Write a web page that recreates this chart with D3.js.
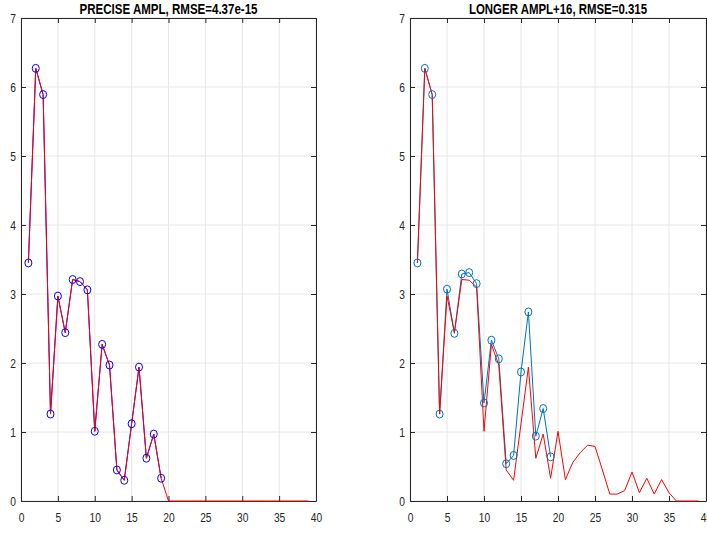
<!DOCTYPE html>
<html>
<head>
<meta charset="utf-8">
<script src="https://cdn.jsdelivr.net/npm/d3@7"></script>
<style>
  body { margin: 0; background: #fff; }
  svg { display: block; }
  .tick text { font-family: "Liberation Sans Narrow", "Arial Narrow", "Liberation Sans", sans-serif; font-size: 12.5px; fill: #262626; }
</style>
</head>
<body>
<svg width="707" height="533"></svg>
<script>

// x = 1..39, original samples (circles) on 1..19
var idxShort = d3.range(1, 20);
var idxLong = d3.range(1, 40);

// left: precise amplitudes
var preciseAmpl = [3.45, 6.27, 5.89, 1.26, 2.97, 2.44, 3.21, 3.18, 3.06, 1.01,
                   2.27, 1.97, 0.45, 0.30, 1.12, 1.94, 0.62, 0.97, 0.33];
var preciseRecon = [3.45, 6.27, 5.89, 1.26, 2.97, 2.44, 3.21, 3.18, 3.06, 1.01,
                    2.27, 1.97, 0.45, 0.30, 1.12, 1.94, 0.62, 0.97, 0.33, 0,
                    0, 0, 0, 0, 0, 0, 0, 0, 0, 0,
                    0, 0, 0, 0, 0, 0, 0, 0, 0];

// right: longer amplitudes (+16)
var longerAmpl = [3.45, 6.27, 5.89, 1.26, 3.07, 2.43, 3.29, 3.31, 3.15, 1.42,
                  2.33, 2.06, 0.54, 0.66, 1.87, 2.74, 0.94, 1.34, 0.64];
var longerRecon = [3.45, 6.27, 5.89, 1.26, 2.97, 2.44, 3.21, 3.20, 3.10, 1.01,
                   2.27, 1.97, 0.45, 0.30, 1.12, 1.94, 0.62, 0.97, 0.33, 1.01,
                   0.31, 0.56, 0.70, 0.81, 0.79, 0.45, 0.10, 0.10, 0.15, 0.42,
                   0.12, 0.33, 0.10, 0.31, 0.12, 0, 0, 0, 0];

var xTicks = [0, 5, 10, 15, 20, 25, 30, 35, 40];
var yTicks = [0, 1, 2, 3, 4, 5, 6, 7];

var svg = d3.select("svg");
var fontTitle = '"Liberation Sans Narrow", "Arial Narrow", "Liberation Sans", sans-serif';

function panel(left, right, title, ampl, recon, markColor) {
  var top = 18, bottom = 501;
  var x = d3.scaleLinear().domain([0, 40]).range([left, right]);
  var y = d3.scaleLinear().domain([0, 7]).range([bottom, top]);
  var g = svg.append("g");

  // grid
  g.selectAll(".gx").data(xTicks).enter().append("line")
    .attr("x1", function(d) { return x(d); }).attr("x2", function(d) { return x(d); })
    .attr("y1", top).attr("y2", bottom)
    .attr("stroke", "#e6e6e6").attr("stroke-width", 1);
  g.selectAll(".gy").data(yTicks).enter().append("line")
    .attr("y1", function(d) { return y(d); }).attr("y2", function(d) { return y(d); })
    .attr("x1", left).attr("x2", right)
    .attr("stroke", "#e6e6e6").attr("stroke-width", 1);

  // axes
  var ax = g.append("g").attr("transform", "translate(0," + bottom + ")")
    .call(d3.axisBottom(x).tickValues(xTicks).tickFormat(d3.format("d"))
      .tickSizeInner(-5).tickSizeOuter(0).tickPadding(12));
  var ay = g.append("g").attr("transform", "translate(" + left + ",0)")
    .call(d3.axisLeft(y).tickValues(yTicks).tickFormat(d3.format("d"))
      .tickSizeInner(-5).tickSizeOuter(0).tickPadding(5));
  g.append("g").attr("transform", "translate(0," + top + ")")
    .call(d3.axisTop(x).tickValues(xTicks).tickSizeInner(-5).tickSizeOuter(0).tickFormat(""));
  g.append("g").attr("transform", "translate(" + right + ",0)")
    .call(d3.axisRight(y).tickValues(yTicks).tickSizeInner(-5).tickSizeOuter(0).tickFormat(""));
  g.selectAll(".domain").attr("stroke", "#262626");
  g.selectAll(".tick line").attr("stroke", "#262626");

  // narrow the tick labels like the condensed original font
  ax.selectAll(".tick text").each(function() {
    d3.select(this).attr("transform", "scale(0.82,1)");
  });
  ay.selectAll(".tick text").attr("transform", "scale(0.82,1)")
    .attr("x", -5 / 0.82);

  // data
  var line = d3.line()
    .x(function(d, i) { return x(i + 1); })
    .y(function(d) { return y(d); });

  g.append("path").datum(ampl)
    .attr("d", line).attr("fill", "none")
    .attr("stroke", markColor).attr("stroke-width", 1);

  g.append("path").datum(recon)
    .attr("d", line).attr("fill", "none")
    .attr("stroke", "#ff0000").attr("stroke-width", 1);

  g.selectAll(".mk").data(ampl).enter().append("ellipse")
    .attr("cx", function(d, i) { return x(i + 1); })
    .attr("cy", function(d) { return y(d); })
    .attr("rx", 3.5).attr("ry", 4)
    .attr("fill", "none").attr("stroke", markColor).attr("stroke-width", 1);

  svg.append("text")
    .attr("x", (left + right) / 2).attr("y", 14)
    .attr("text-anchor", "middle")
    .attr("textLength", 178).attr("lengthAdjust", "spacingAndGlyphs")
    .style("font-family", fontTitle).style("font-weight", "bold").style("font-size", "15px")
    .attr("fill", "#000")
    .text(title);
}

panel(21, 316, "PRECISE AMPL, RMSE=4.37e-15", preciseAmpl, preciseRecon, "#0000ff");
panel(410, 706, "LONGER AMPL+16, RMSE=0.315", longerAmpl, longerRecon, "#0072bd");

</script>
</body>
</html>
